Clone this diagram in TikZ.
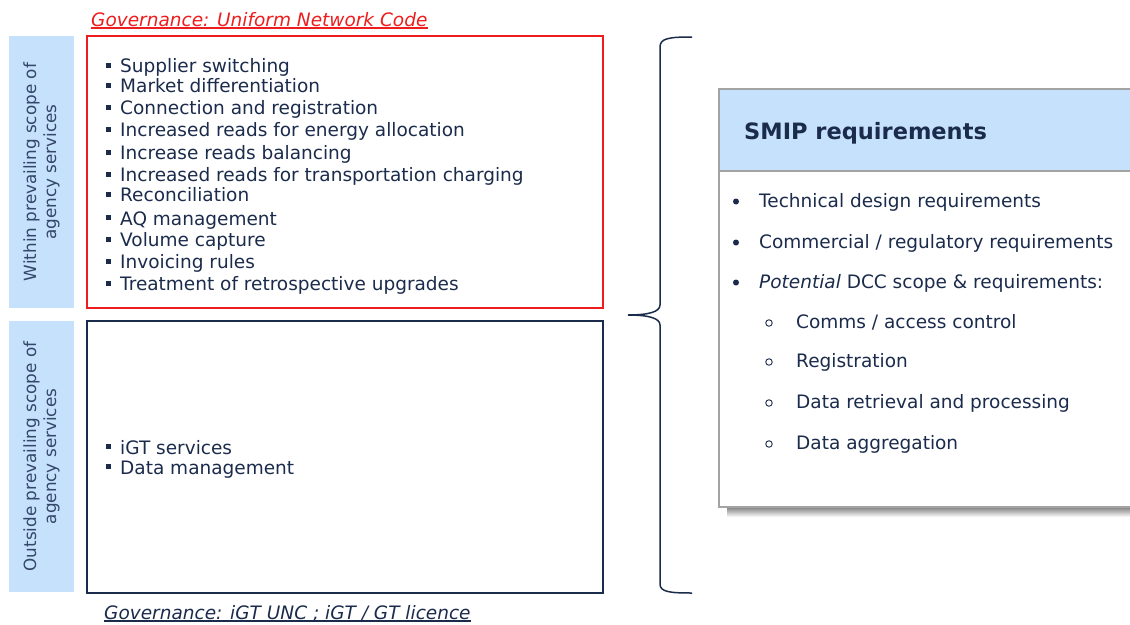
\documentclass[tikz,border=0pt]{standalone}
\usepackage{fontspec}
\setmainfont{DejaVu Sans}
\definecolor{navy}{HTML}{1B2B4B}
\definecolor{slate}{HTML}{34466A}
\definecolor{paleblue}{HTML}{C6E1FB}
\definecolor{govred}{HTML}{EE1C1C}
\definecolor{frame}{HTML}{A3A3A3}
\definecolor{shade}{HTML}{808080}
\newcommand\bodyfont{\fontsize{18.5pt}{22pt}\selectfont}
\newcommand\sq{\textcolor{navy}{\rule[5pt]{5pt}{5pt}}\hspace{9pt}}
\tikzset{
  block/.style={draw, line width=1.6pt, inner sep=0pt},
  sidebar/.style={fill=paleblue, inner sep=0pt},
  sidelabel/.style={rotate=90, align=center, text=slate,
    font=\fontsize{16.8pt}{20pt}\selectfont},
  item/.style={anchor=base west, inner sep=0pt, text=navy, font=\bodyfont},
  govlabel/.style={anchor=base west, inner sep=0pt, font=\bodyfont\itshape},
  dot/.style={circle, fill=navy, inner sep=0pt, minimum size=6pt},
  ring/.style={circle, draw=navy, line width=0.9pt, inner sep=0pt, minimum size=6.5pt},
}
\begin{document}
\begin{tikzpicture}[x=1pt, y=-1pt]
\useasboundingbox (0,0) rectangle (1130,624);
\clip (0,0) rectangle (1130,624);

% left column: scope bars
\node[sidebar, minimum width=65pt, minimum height=272pt] (barin) at (41.5,172) {};
\node[sidebar, minimum width=65pt, minimum height=271pt] (barout) at (41.5,456.5) {};
\node[sidelabel] (labin) at (barin.center) {Within prevailing scope of\\agency services};
\node[sidelabel] (labout) at (barout.center) {Outside prevailing scope of\\agency services};

% service boxes
\node[block, draw=govred, minimum width=516pt, minimum height=272pt] (unc) at (345,172) {};
\node[block, draw=navy, minimum width=516pt, minimum height=272pt] (igt) at (345,457) {};

% governance captions
\node[govlabel, text=govred] (govunc) at (91,26) {Governance: Uniform Network Code};
\draw[govred, line width=1.2pt] ([yshift=-2pt]govunc.base west) -- ([yshift=-2pt]govunc.base east);
\node[govlabel, text=navy] (govigt) at (104,619) {Governance: iGT UNC ; iGT / GT licence};
\draw[navy, line width=1.2pt] ([yshift=-2pt]govigt.base west) -- ([yshift=-2pt]govigt.base east);

% services under the UNC
\foreach \y/\t [count=\i] in {
  72.5/Supplier switching,
  92.5/Market differentiation,
  114.5/Connection and registration,
  136.5/Increased reads for energy allocation,
  159.5/Increase reads balancing,
  181.5/Increased reads for transportation charging,
  201.5/Reconciliation,
  225/AQ management,
  246.5/Volume capture,
  268.5/Invoicing rules,
  290.5/Treatment of retrospective upgrades}
  \node[item] (uncitem\i) at (106,\y) {\sq\t};

% services outside the agency scope
\node[item] (igtitem1) at (106,454) {\sq iGT services};
\node[item] (igtitem2) at (106,474) {\sq Data management};

% brace gathering both boxes
\draw[navy, line width=1.5pt]
  (692,37) .. controls (670,37) and (660,38) .. (660,47) -- (660,305)
  .. controls (660,312) and (648,315) .. (628,315)
  .. controls (648,315) and (660,318) .. (660,325) -- (660,584)
  .. controls (660,592) and (670,593) .. (692,593);

% SMIP requirements panel
\fill[shade] (727,507) rectangle (1140,517);
\node[draw=frame, line width=1.3pt, fill=white, inner sep=0pt,
      minimum width=421pt, minimum height=336pt] (smipbody) at (929.5,339) {};
\node[draw=frame, line width=1.3pt, fill=paleblue, inner sep=0pt,
      minimum width=421pt, minimum height=82pt] (smiphead) at (929.5,130) {};
\node[anchor=base west, inner sep=0pt, text=navy,
      font=\fontsize{22.5pt}{26pt}\selectfont\bfseries] (smiptitle) at (744,139) {SMIP requirements};

\foreach \y/\t [count=\i] in {
  207.5/{Technical design requirements},
  248.5/{Commercial / regulatory requirements},
  288.5/{\textit{Potential} DCC scope \& requirements:}} {
  \node[dot] (req\i dot) at (736,\y-6) {};
  \node[item] (req\i) at (759,\y) {\t};
}
\foreach \y/\t [count=\i] in {
  328.5/{Comms / access control},
  367.5/{Registration},
  408.5/{Data retrieval and processing},
  449.5/{Data aggregation}} {
  \node[ring] (dcc\i ring) at (769,\y-5.5) {};
  \node[item] (dcc\i) at (796,\y) {\t};
}
\end{tikzpicture}
\end{document}
